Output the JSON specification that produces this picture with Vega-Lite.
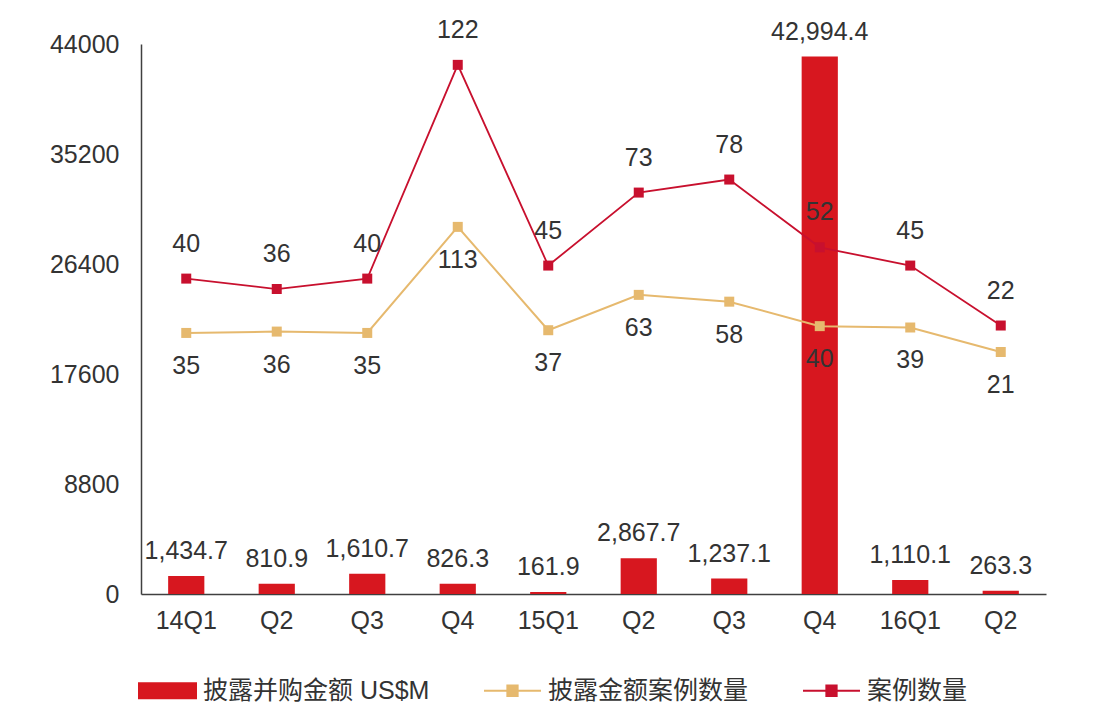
{
  "$schema": "https://vega.github.io/schema/vega-lite/v6.json",
  "width": 905,
  "height": 550,
  "autosize": {"type": "none"},
  "padding": {"left": 141, "top": 44, "right": 47, "bottom": 123},
  "background": "white",
  "config": {
    "view": {"stroke": null},
    "font": "Liberation Sans",
    "text": {"font": "Liberation Sans", "fontSize": 25, "fill": "#333333"}
  },
  "data": {
    "values": [
      {"q": "14Q1", "amount": 1434.7, "disclosed": 35, "cases": 40},
      {"q": "14Q2", "amount": 810.9, "disclosed": 36, "cases": 36},
      {"q": "14Q3", "amount": 1610.7, "disclosed": 35, "cases": 40},
      {"q": "14Q4", "amount": 826.3, "disclosed": 113, "cases": 122},
      {"q": "15Q1", "amount": 161.9, "disclosed": 37, "cases": 45},
      {"q": "15Q2", "amount": 2867.7, "disclosed": 63, "cases": 73},
      {"q": "15Q3", "amount": 1237.1, "disclosed": 58, "cases": 78},
      {"q": "15Q4", "amount": 42994.4, "disclosed": 40, "cases": 52},
      {"q": "16Q1", "amount": 1110.1, "disclosed": 39, "cases": 45},
      {"q": "16Q2", "amount": 263.3, "disclosed": 21, "cases": 22}
    ]
  },
  "encoding": {
    "x": {
      "field": "q",
      "type": "nominal",
      "sort": null,
      "scale": {"paddingInner": 0, "paddingOuter": 0},
      "axis": {
        "title": null,
        "labelAngle": 0,
        "ticks": false,
        "domainColor": "#404040",
        "domainWidth": 1.5,
        "labelFont": "Liberation Sans",
        "labelFontSize": 25,
        "labelColor": "#333333",
        "labelPadding": 14,
        "labelExpr": "indexof(datum.value, 'Q1') > 0 ? datum.value : substring(datum.value, 2)"
      }
    }
  },
  "layer": [
    {
      "layer": [
        {
          "mark": {"type": "bar", "width": {"band": 0.4}},
          "encoding": {
            "y": {
              "field": "amount",
              "type": "quantitative",
              "scale": {"domain": [0, 44000], "nice": false},
              "axis": {
                "title": null,
                "values": [0, 8800, 17600, 26400, 35200, 44000],
                "format": "d",
                "ticks": false,
                "grid": false,
                "domainColor": "#404040",
                "domainWidth": 1.5,
                "labelFont": "Liberation Sans",
                "labelFontSize": 25,
                "labelColor": "#333333",
                "labelPadding": 22
              }
            },
            "color": {
              "datum": "披露并购金额 US$M",
              "scale": {
                "domain": ["披露并购金额 US$M", "披露金额案例数量", "案例数量"],
                "range": ["#D7171F", "#E6B96E", "#C8102E"]
              },
              "legend": {
                "title": null,
                "orient": "none",
                "legendX": -3,
                "legendY": 617,
                "direction": "horizontal",
                "padding": 0,
                "symbolSize": 3249,
                "labelFont": "Liberation Sans, Noto Sans CJK SC",
                "labelFontSize": 25,
                "labelColor": "#333333",
                "labelLimit": 600,
                "labelOffset": 6,
                "columnPadding": 50,
                "encode": {
                  "symbols": {
                    "update": {
                      "shape": {"signal": "datum.value === '披露并购金额 US$M' ? 'M-1,-0.26L1,-0.26L1,0.26L-1,0.26Z' : 'M-1,0L1,0M-0.18,-0.18L0.18,-0.18L0.18,0.18L-0.18,0.18Z'"},
                      "fill": {"signal": "datum.value === '披露金额案例数量' ? '#E6B96E' : (datum.value === '案例数量' ? '#C8102E' : '#D7171F')"},
                      "stroke": {"signal": "datum.value === '披露金额案例数量' ? '#E6B96E' : (datum.value === '案例数量' ? '#C8102E' : '#D7171F')"},
                      "strokeWidth": {"value": 2},
                      "opacity": {"value": 1},
                      "fillOpacity": {"value": 1}
                    }
                  }
                }
              }
            }
          }
        },
        {
          "mark": {"type": "text", "dy": -25, "baseline": "middle"},
          "encoding": {
            "y": {"field": "amount", "type": "quantitative"},
            "text": {"field": "amount", "type": "quantitative", "format": ",.1f"}
          }
        }
      ]
    },
    {
      "layer": [
        {
          "mark": {"type": "line", "strokeWidth": 2, "point": {"shape": "square", "size": 100, "filled": true}},
          "encoding": {
            "y": {
              "field": "disclosed",
              "type": "quantitative",
              "scale": {"domain": [-157, 247.5], "nice": false, "zero": false},
              "axis": null
            },
            "color": {"datum": "披露金额案例数量"}
          }
        },
        {
          "mark": {"type": "text", "dy": 33, "baseline": "middle"},
          "encoding": {
            "y": {"field": "disclosed", "type": "quantitative"},
            "text": {"field": "disclosed", "type": "quantitative"}
          }
        }
      ]
    },
    {
      "layer": [
        {
          "mark": {"type": "line", "strokeWidth": 1.8, "point": {"shape": "square", "size": 100, "filled": true}},
          "encoding": {
            "y": {
              "field": "cases",
              "type": "quantitative",
              "scale": {"domain": [-81, 130], "nice": false, "zero": false},
              "axis": null
            },
            "color": {"datum": "案例数量"}
          }
        },
        {
          "mark": {"type": "text", "dy": -35, "baseline": "middle"},
          "encoding": {
            "y": {"field": "cases", "type": "quantitative"},
            "text": {"field": "cases", "type": "quantitative"}
          }
        }
      ]
    }
  ],
  "resolve": {"scale": {"y": "independent"}}
}
